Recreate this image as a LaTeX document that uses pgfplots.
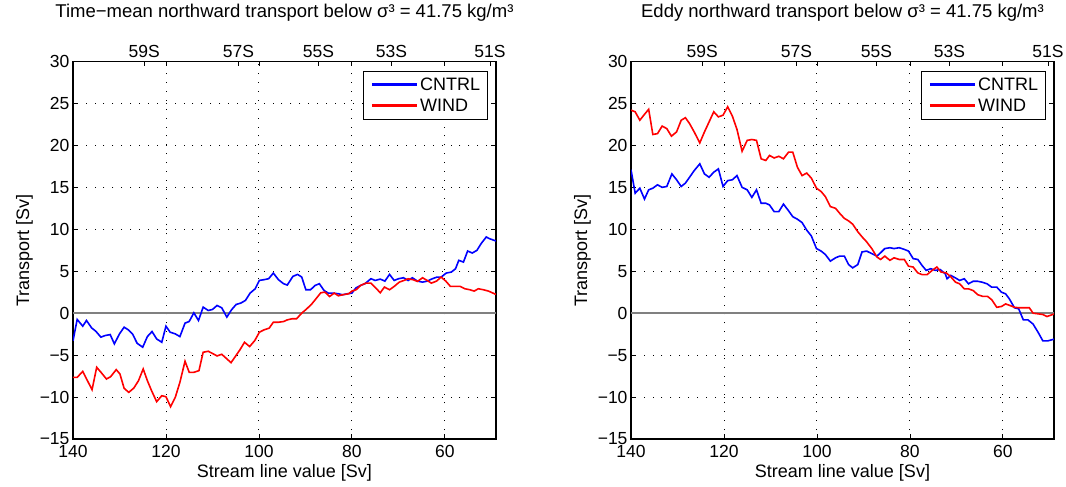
\documentclass[border=0pt]{standalone}
\usepackage{fontspec}
\setmainfont{Liberation Sans}
\usepackage{pgfplots}
\usepackage{pgfplotstable}
\pgfplotsset{compat=1.18}

% Time-mean transport, control run
\pgfplotstableread{
v T
140 -3.3
139.1 -0.75
137.9 -1.55
137.1 -0.87
136.0 -1.75
135.1 -2.15
134.0 -2.86
133.1 -2.67
132.0 -2.55
131.1 -3.66
130.0 -2.47
129.0 -1.67
128.1 -1.99
127.2 -2.47
126.2 -3.59
125.0 -4.06
124.0 -2.79
123.0 -2.19
122.0 -3.07
120.9 -3.47
120.0 -1.55
119.1 -2.27
118.0 -2.47
117.0 -2.79
115.9 -1.19
115.0 -0.99
114.0 0.04
113.0 -0.87
112.0 0.72
110.9 0.32
110.0 0.44
109.0 0.92
108.0 0.64
106.9 -0.47
105.9 0.40
104.9 1.04
103.9 1.20
102.9 1.52
101.9 2.39
100.8 2.91
99.9 3.91
98.9 3.99
97.9 4.11
96.9 4.78
95.8 3.99
94.7 3.51
93.9 3.35
92.7 4.38
91.7 4.62
90.8 4.31
89.9 2.79
88.9 2.79
87.9 3.31
87.0 3.51
86.0 2.71
85.1 2.39
84.0 2.39
82.9 2.31
82.0 2.19
81.1 2.30
80.0 2.39
79.1 3.03
78.1 3.31
77.2 3.51
75.9 4.11
75.0 3.90
73.9 4.06
72.9 3.82
71.9 4.62
70.9 3.90
70.0 4.10
68.9 4.22
67.9 3.90
67.0 4.22
65.9 3.82
64.8 3.70
63.8 3.82
62.7 4.10
61.7 4.30
60.8 4.30
59.7 4.78
58.6 4.90
57.7 5.30
57.0 6.30
56.0 6.09
55.1 7.41
54.1 7.17
53.1 7.49
52.2 8.29
51.1 9.08
50.4 8.88
49.0 8.60
}\meanCntrl

% Time-mean transport, wind run
\pgfplotstableread{
v T
140 -7.65
139.1 -7.65
137.9 -6.94
136.9 -8.04
135.9 -9.12
134.9 -6.45
133.8 -7.17
132.8 -7.85
131.9 -7.57
130.7 -6.73
129.9 -7.25
129.0 -8.96
128.0 -9.44
126.9 -8.92
125.9 -8.04
124.9 -6.65
124.0 -8.04
123.1 -9.24
122.0 -10.55
120.9 -9.84
120.0 -9.96
119.0 -11.15
118.0 -10.04
117.0 -8.24
115.9 -5.73
115.0 -7.05
114.0 -7.05
112.9 -6.85
112.0 -4.66
110.9 -4.54
110.0 -4.8
109.0 -5.1
108.0 -4.9
107.0 -5.4
106.0 -5.9
105.0 -5.1
104.1 -4.38
103.1 -3.47
102.0 -3.98
100.9 -3.27
99.9 -2.27
98.9 -1.99
97.8 -1.79
96.9 -1.08
95.8 -1.08
94.7 -1.00
93.9 -0.80
92.9 -0.67
91.9 -0.67
90.8 0
89.7 0.52
88.6 1.12
87.6 1.80
86.7 2.43
85.8 2.51
84.8 1.99
83.8 2.39
82.9 2.07
82.0 2.19
80.7 2.31
80.0 2.63
79.1 2.79
78.1 3.31
77.0 3.58
75.9 3.58
74.9 3.03
73.9 2.43
73.0 3.11
71.9 2.79
70.9 3.19
69.8 3.70
68.8 3.90
67.9 4.10
66.8 3.98
65.9 3.78
64.8 4.22
63.8 3.90
62.9 3.58
61.8 3.82
60.8 4.30
59.8 3.82
58.8 3.19
57.9 3.19
56.7 3.19
55.7 2.91
54.6 2.79
53.7 2.63
52.8 2.91
51.7 2.79
50.6 2.63
49.0 2.23
}\meanWind

% Eddy transport, control run
\pgfplotstableread{
v T
140 17.1
139.1 14.3
138.1 14.9
137.1 13.6
136.2 14.7
135.3 14.9
134.3 15.3
133.3 15.0
132.3 15.1
131.2 16.6
130.2 15.9
129.2 15.1
128.3 15.5
127.4 16.2
126.4 17.0
125.2 17.8
124.2 16.6
123.2 16.2
122.2 16.8
121.2 17.2
120.2 15.1
119.2 15.8
118.2 15.9
117.2 16.4
116.1 15.0
115.0 14.7
114.0 13.8
113.0 14.7
112.0 13.1
111.0 13.1
110.2 12.9
109.2 12.1
108.2 12.1
107.2 13.0
106.1 12.2
105.2 11.5
104.2 11.2
103.2 10.8
102.2 9.9
101.2 9.2
100.1 7.7
99.1 7.4
98.2 7.0
97.1 6.2
96.0 6.6
95.1 6.8
94.1 6.8
93.2 5.8
92.3 5.4
91.2 5.8
90.3 7.3
89.3 7.4
88.2 7.1
87.1 6.8
86.3 7.2
85.4 7.7
84.3 7.8
83.4 7.7
82.3 7.8
81.2 7.6
80.3 7.4
79.3 6.5
78.3 6.4
77.4 5.7
76.5 5.1
75.5 5.3
74.5 5.1
73.5 5.2
72.4 4.7
72.0 4.1
71.2 4.5
70.2 4.2
69.3 3.9
68.3 4.1
67.4 3.5
66.4 3.8
65.4 3.8
64.5 3.7
63.4 3.5
62.4 3.1
61.3 3.1
60.3 2.5
59.4 2.3
58.6 1.7
57.5 0.64
56.6 0.52
55.6 -0.8
54.6 -0.8
53.5 -1.3
52.4 -2.3
51.4 -3.3
50.3 -3.3
49.0 -3.1
}\eddyCntrl

% Eddy transport, wind run
\pgfplotstableread{
v T
140 24.2
139.1 24.0
138.1 23.0
137.1 23.7
136.2 24.3
135.3 21.3
134.3 21.4
133.3 22.3
132.3 22.0
131.3 21.1
130.2 21.6
129.2 23.0
128.3 23.3
127.4 22.6
126.4 21.6
125.2 20.3
124.2 21.6
123.2 22.8
122.2 24.0
121.2 23.4
120.2 23.6
119.2 24.6
118.2 23.5
117.2 21.9
116.1 19.3
115.0 20.6
114.0 20.7
113.0 20.6
112.0 18.4
111.0 18.2
110.2 18.8
109.2 18.5
108.2 18.7
107.2 18.4
106.1 19.2
105.2 19.2
104.2 17.4
103.2 16.4
102.2 16.7
101.2 16.1
100.1 14.9
99.1 14.5
98.2 13.9
97.1 12.7
96.0 12.5
95.1 11.9
94.1 11.3
93.2 11.0
92.3 10.6
91.2 9.7
90.3 9.1
89.3 8.5
88.2 7.7
87.1 6.7
86.3 6.4
85.4 6.8
84.3 6.3
83.4 6.6
82.3 6.4
81.2 6.4
80.3 5.6
79.3 5.5
78.3 4.8
77.4 4.6
76.3 4.6
75.2 5.1
74.2 5.5
73.3 4.9
72.2 4.8
71.3 4.4
70.2 3.7
69.3 3.5
68.3 2.9
67.4 2.9
66.4 2.7
65.4 2.2
64.3 2.0
63.3 2.0
62.4 1.6
61.3 0.7
60.3 0.8
59.4 1.1
58.4 0.9
57.5 0.7
56.4 0.64
55.4 0.64
54.3 0.64
53.5 0
52.4 -0.08
51.4 -0.16
50.5 -0.4
49.0 -0.1
}\eddyWind

\newcommand{\tickfont}{\fontsize{17.5}{20}\selectfont}
\newcommand{\labfont}{\fontsize{18}{21}\selectfont}
\newcommand{\titfont}{\fontsize{18.5}{22}\selectfont}

\pgfplotsset{
  panel/.style={
    scale only axis, width=423pt, height=377.5pt,
    x dir=reverse, xmin=49, xmax=140, ymin=-15, ymax=30,
    tick align=inside, major tick length=4.5pt,
    tick style={black, line width=0.8pt},
    ticklabel style={font=\tickfont},
  },
  mainpanel/.style={
    panel,
    xtick={140,120,100,80,60}, xticklabels={140,120,100,80,60},
    ytick={-15,-10,-5,0,5,10,15,20,25,30},
    yticklabels={−15,−10,−5,0,5,10,15,20,25,30},
    axis line style={black, line width=1.1pt},
    grid=major,
    grid style={black, line width=0.9pt, dash pattern=on 0.9pt off 8pt},
    xticklabel style={yshift=-3pt},
    label style={font=\labfont},
    xlabel={Stream line value [Sv]},
    ylabel={Transport [Sv]},
    title style={font=\titfont, at={(0.5,1)}, anchor=base, yshift=38pt},
    legend cell align=left,
    legend style={at={(0.98,0.976)}, anchor=north east,
      draw=black, fill=white, font=\labfont,
      inner xsep=5pt, inner ysep=4.5pt, row sep=3pt,
      nodes={inner sep=2pt}},
    every axis legend/.append style={line width=1pt},
    legend image code/.code={%
      \path (0pt,0pt);
      \draw[#1, line width=2.2pt] (3pt,0pt) -- (48pt,0pt);},
  },
  latpanel/.style={
    panel,
    xtick pos=upper, xticklabel pos=upper,
    xtick={124.7,104.4,87.2,71.5,50.3},
    xticklabels={59S,57S,55S,53S,51S},
    hide y axis, axis line style={draw=none},
  },
  cntrl/.style={color={rgb,1:red,0;green,0;blue,1}, line width=1.6pt},
  wind/.style={color={rgb,1:red,1;green,0;blue,0}, line width=1.6pt},
  zeroline/.style={color=black!50, line width=2pt, forget plot},
}

\begin{document}
\begin{tikzpicture}
\useasboundingbox (0,0) rectangle (1066pt,487pt);

% left panel: time-mean transport
\begin{axis}[mainpanel, at={(73pt,48pt)}, anchor=south west,
  title={Time−mean northward transport below σ³ = 41.75 kg/m³}]
  \addplot[zeroline] coordinates {(140,0) (49,0)};
  \addplot[cntrl] table[x=v, y=T] {\meanCntrl};
  \addplot[wind] table[x=v, y=T] {\meanWind};
  \legend{CNTRL, WIND}
\end{axis}
\begin{axis}[latpanel, at={(73pt,48pt)}, anchor=south west]
\end{axis}

% right panel: eddy transport
\begin{axis}[mainpanel, at={(631pt,48pt)}, anchor=south west,
  title={Eddy northward transport below σ³ = 41.75 kg/m³}]
  \addplot[zeroline] coordinates {(140,0) (49,0)};
  \addplot[cntrl] table[x=v, y=T] {\eddyCntrl};
  \addplot[wind] table[x=v, y=T] {\eddyWind};
  \legend{CNTRL, WIND}
\end{axis}
\begin{axis}[latpanel, at={(631pt,48pt)}, anchor=south west]
\end{axis}
\end{tikzpicture}
\end{document}
